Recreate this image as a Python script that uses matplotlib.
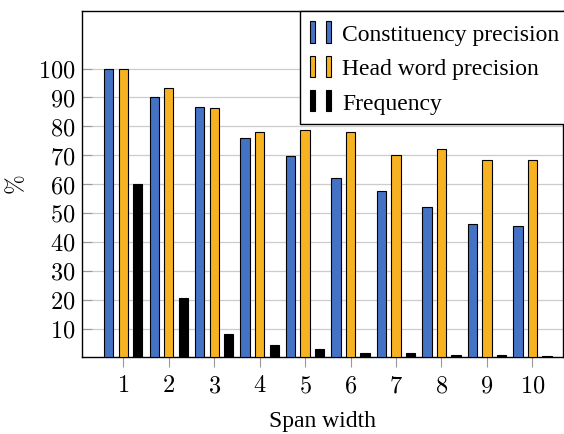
import matplotlib
matplotlib.use("Agg")
import matplotlib.pyplot as plt
from matplotlib.patches import Patch
from matplotlib.legend_handler import HandlerTuple
import numpy as np

span = [1, 2, 3, 4, 5, 6, 7, 8, 9, 10]
constituency = [100, 90.0, 86.6, 76.1, 69.7, 62.1, 57.6, 52.1, 46.3, 45.6]
head_word = [100, 93.2, 86.4, 78.1, 78.7, 78.1, 69.9, 72.1, 68.3, 68.2]
frequency = [60.1, 20.7, 8.2, 4.2, 2.8, 1.5, 1.4, 1.0, 0.9, 0.6]
yticks = [10, 20, 30, 40, 50, 60, 70, 80, 90, 100]

blue = "#4472c4"
gold = "#f6b221"

plt.rcParams["mathtext.fontset"] = "cm"
plt.rcParams["font.family"] = "Liberation Serif"

fig = plt.figure(figsize=(5.64, 4.35), dpi=100)
ax = fig.add_axes([0.146, 0.176, 0.852, 0.797])

x = np.array(span)
w = 0.205
off = 0.32
ax.bar(x - off, constituency, w, color=blue, edgecolor="black", linewidth=0.8, zorder=3)
ax.bar(x, head_word, w, color=gold, edgecolor="black", linewidth=0.8, zorder=3)
ax.bar(x + off, frequency, w, color="black", edgecolor="black", linewidth=0.8, zorder=3)

ax.set_xlim(0.1, 10.67)
ax.set_ylim(0, 120)
ax.set_xticks(span)
ax.set_xticklabels(["$%d$" % s for s in span], fontsize=17.5)
ax.set_yticks(yticks)
ax.set_yticklabels(["$%d$" % v for v in yticks], fontsize=17.5)
ax.tick_params(axis="x", direction="out", length=7, color="#999999", pad=6)
ax.tick_params(axis="y", direction="in", length=7, color="#999999", pad=5)
ax.yaxis.grid(True, color="#cccccc", linewidth=0.9, zorder=0)
ax.set_axisbelow(True)
for s in ax.spines.values():
    s.set_linewidth(1.0)

ax.set_xlabel("Span width", fontsize=17, labelpad=10)
ax.set_ylabel("$\\%$", fontsize=17)
ax.yaxis.set_label_coords(-0.112, 0.5)

def pair(c):
    return (Patch(facecolor=c, edgecolor="black", linewidth=0.8),
            Patch(facecolor=c, edgecolor="black", linewidth=0.8))

leg = ax.legend([pair(blue), pair(gold), pair("black")],
                ["Constituency precision", "Head word precision", "Frequency"],
                handler_map={tuple: HandlerTuple(ndivide=None, pad=0.5)},
                loc="upper right", bbox_to_anchor=(1.015, 1.0), borderaxespad=0,
                fontsize=17, fancybox=False, edgecolor="black", framealpha=1,
                handlelength=0.85, handleheight=1.0, handletextpad=0.5,
                labelspacing=0.45, borderpad=0.45)
leg.get_frame().set_linewidth(1.0)

fig.savefig("out.png", dpi=100)
